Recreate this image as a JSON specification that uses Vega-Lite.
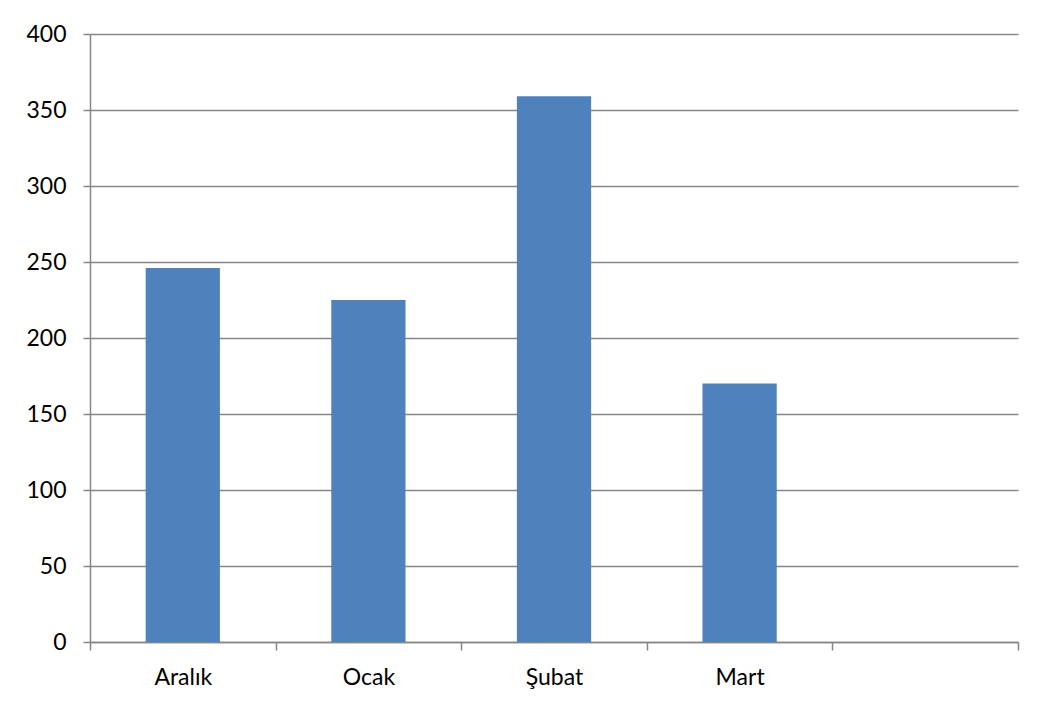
{
  "$schema": "https://vega.github.io/schema/vega-lite/v6.json",
  "autosize": "none",
  "width": 928,
  "height": 608,
  "padding": {"left": 90, "top": 34, "right": 25, "bottom": 64},
  "background": "white",
  "config": {
    "view": {"stroke": null},
    "font": "Lato"
  },
  "data": {
    "values": [
      {"month": "Aralık", "value": 246},
      {"month": "Ocak", "value": 225},
      {"month": "Şubat", "value": 359},
      {"month": "Mart", "value": 170}
    ]
  },
  "mark": {"type": "bar", "color": "#4F81BD", "width": {"band": 0.4}},
  "encoding": {
    "x": {
      "field": "month",
      "type": "nominal",
      "sort": null,
      "scale": {"domain": ["Aralık", "Ocak", "Şubat", "Mart", "_empty"], "paddingInner": 0, "paddingOuter": 0},
      "axis": {
        "title": null,
        "labelAngle": 0,
        "labelExpr": "datum.value == '_empty' ? '' : datum.label",
        "labelFont": "Lato",
        "labelFontSize": 23,
        "labelColor": "#000000",
        "labelPadding": 16,
        "tickBand": "extent",
        "tickSize": 8,
        "tickColor": "#868686",
        "tickWidth": 1.5,
        "domainColor": "#868686",
        "domainWidth": 1.5,
        "grid": false
      }
    },
    "y": {
      "field": "value",
      "type": "quantitative",
      "scale": {"domain": [0, 400], "nice": false},
      "axis": {
        "title": null,
        "values": [0, 50, 100, 150, 200, 250, 300, 350, 400],
        "labelFont": "Lato",
        "labelFontSize": 23,
        "labelColor": "#000000",
        "labelPadding": 17,
        "tickSize": 7,
        "tickColor": "#868686",
        "tickWidth": 1.5,
        "domainColor": "#868686",
        "domainWidth": 1.5,
        "grid": true,
        "gridColor": "#868686",
        "gridWidth": 1.5
      }
    }
  }
}
